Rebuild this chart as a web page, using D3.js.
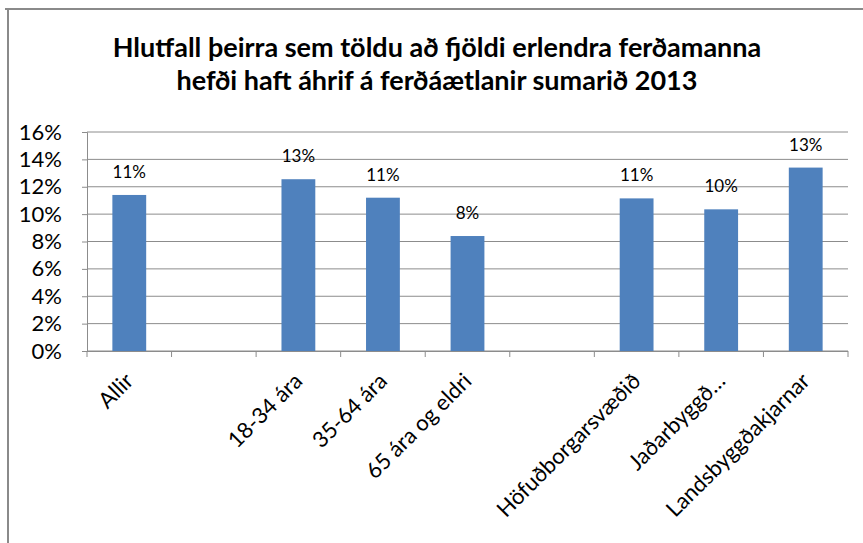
<!DOCTYPE html>
<html>
<head>
<meta charset="utf-8">
<script src="https://cdn.jsdelivr.net/npm/d3@7"></script>
<style>
	body { margin: 0; background: #fff; }
	text { font-family: Lato, "Open Sans", sans-serif; fill: #000; }
</style>
</head>
<body>
<svg id="chart"></svg>
<script>
'use strict'

var WIDTH = 863,
	HEIGHT = 543;

// categories (empty strings are the gaps between groups)
var categories = ["Allir", "", "18-34 ára", "35-64 ára", "65 ára og eldri", " ", "Höfuðborgarsvæðið", "Jaðarbyggð…", "Landsbyggðakjarnar"];
var values = [11.4, null, 12.55, 11.2, 8.4, null, 11.15, 10.35, 13.4];
var valueLabels = ["11%", "", "13%", "11%", "8%", "", "11%", "10%", "13%"];
var yTicks = [0, 2, 4, 6, 8, 10, 12, 14, 16];
var titleLines = ["Hlutfall þeirra sem töldu að fjöldi erlendra ferðamanna", "hefði haft áhrif á ferðáætlanir sumarið 2013"];

var margin = { top: 132, right: 15, bottom: 192, left: 87 };
var plotW = WIDTH - margin.left - margin.right,
	plotH = HEIGHT - margin.top - margin.bottom;

var svg = d3.select("#chart")
	.attr('width', WIDTH)
	.attr('height', HEIGHT);

var barColor = "#4f81bd";
var gridColor = "#8c8c8c";
var frameColor = "#8a8a8a";

// outer frame (top and left only visible)
svg.append('line')
	.attr('x1', 5).attr('x2', WIDTH)
	.attr('y1', 9).attr('y2', 9)
	.style('stroke', frameColor)
	.style('stroke-width', 2);
svg.append('line')
	.attr('x1', 8).attr('x2', 8)
	.attr('y1', 8).attr('y2', HEIGHT)
	.style('stroke', frameColor)
	.style('stroke-width', 2);

// title
svg.append('g').selectAll('text')
	.data(titleLines)
	.enter()
	.append('text')
	.attr('x', 437)
	.attr('y', function (d, i) { return 57 + i * 33; })
	.attr('text-anchor', 'middle')
	.style('font-size', '27px')
	.style('font-weight', 'bold')
	.text(function (d) { return d; });

var g = svg.append('g')
	.attr('transform', 'translate(' + margin.left + ',' + margin.top + ')');

var x = d3.scaleBand()
	.domain(categories)
	.range([0, plotW])
	.paddingInner(0.6)
	.paddingOuter(0.3);

var y = d3.scaleLinear()
	.domain([0, 16])
	.range([plotH, 0]);

// gridlines
g.selectAll('.grid')
	.data(yTicks)
	.enter()
	.append('line')
	.attr('x1', 0)
	.attr('x2', plotW)
	.attr('y1', function (d) { return y(d); })
	.attr('y2', function (d) { return y(d); })
	.style('stroke', gridColor)
	.style('stroke-width', 1);

// y axis
var yAxis = g.append('g')
	.call(d3.axisLeft(y)
		.tickValues(yTicks)
		.tickSize(5)
		.tickPadding(20)
		.tickFormat(function (d) { return d + '%'; }));
yAxis.select('.domain').style('stroke', gridColor);
yAxis.selectAll('.tick line').style('stroke', gridColor);
yAxis.selectAll('text')
	.style('font-size', '22px')
	.style('font-family', 'Lato, sans-serif')
	.attr('fill', '#000');

// x axis: ticks at slot boundaries
var step = x.step();
var boundaries = d3.range(categories.length + 1);
g.append('line')
	.attr('x1', 0).attr('x2', plotW)
	.attr('y1', plotH + 0.5).attr('y2', plotH + 0.5)
	.style('stroke', gridColor);
g.selectAll('.xtick')
	.data(boundaries)
	.enter()
	.append('line')
	.attr('x1', function (d) { return d * step; })
	.attr('x2', function (d) { return d * step; })
	.attr('y1', plotH)
	.attr('y2', plotH + 6)
	.style('stroke', gridColor);

// bars
var idx = d3.range(categories.length).filter(function (i) { return values[i] !== null; });

g.selectAll('.bar')
	.data(idx)
	.enter()
	.append('rect')
	.attr('x', function (i) { return x(categories[i]); })
	.attr('width', x.bandwidth())
	.attr('y', function (i) { return y(values[i]); })
	.attr('height', function (i) { return plotH - y(values[i]); })
	.style('fill', barColor);

// value labels
g.selectAll('.vlabel')
	.data(idx)
	.enter()
	.append('text')
	.attr('x', function (i) { return x(categories[i]) + x.bandwidth() / 2; })
	.attr('y', function (i) { return y(values[i]) - 17; })
	.attr('text-anchor', 'middle')
	.style('font-size', '17px')
	.text(function (i) { return valueLabels[i]; });

// category labels
g.selectAll('.xlabel')
	.data(idx)
	.enter()
	.append('text')
	.attr('transform', function (i) {
		var cx = x(categories[i]) + x.bandwidth() / 2;
		return 'translate(' + cx + ',' + (plotH + 26) + ') rotate(-45)';
	})
	.attr('text-anchor', 'end')
	.attr('dy', '0.35em')
	.style('font-size', '22px')
	.text(function (i) { return categories[i]; });
</script>
</body>
</html>
